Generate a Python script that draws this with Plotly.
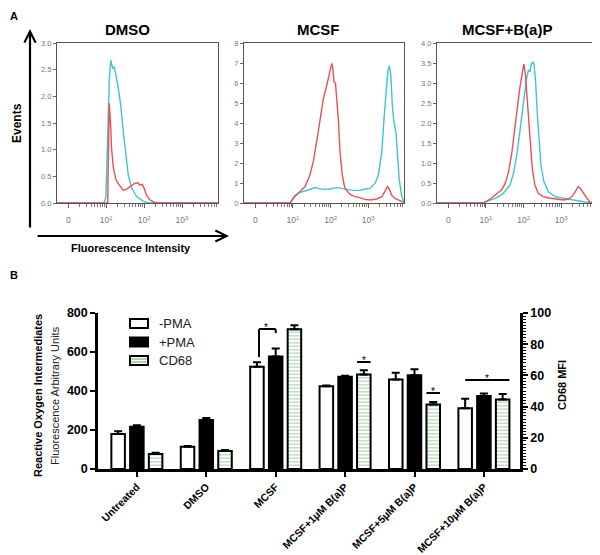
import math
import plotly.graph_objects as go

# The page body has an 8px margin, so the figure is offset by (8, 8) in the window.
OFF = 8
W, H = 600 - OFF, 555 - OFF
FONT = "Liberation Sans"

# ---------------- Panel A data (x in display decades: 0 -> "0", 1 -> 10^1, ...) ----------------
dmso_cyan_x = [-0.3, 0.94, 0.99, 1.03, 1.08, 1.12, 1.17, 1.20, 1.24, 1.32, 1.38, 1.45, 1.52, 1.58, 1.67, 1.80, 1.98, 2.11, 3.95]
dmso_cyan_y = [0, 0, 0.1, 1.2, 2.3, 2.68, 2.52, 2.56, 2.46, 2.15, 1.84, 1.34, 0.9, 0.53, 0.28, 0.12, 0.03, 0, 0]
dmso_red_x = [-0.3, 1.04, 1.05, 1.07, 1.08, 1.12, 1.14, 1.19, 1.26, 1.34, 1.45, 1.54, 1.64, 1.76, 1.83, 1.89, 1.95, 2.00, 2.06, 2.15, 2.28, 2.42, 3.95]
dmso_red_y = [0, 0, 0.6, 1.5, 1.87, 1.4, 1.02, 0.65, 0.43, 0.34, 0.24, 0.26, 0.31, 0.37, 0.38, 0.34, 0.35, 0.28, 0.15, 0.06, 0.01, 0, 0]

mcsf_red_x = [-0.3, 0.92, 1.05, 1.19, 1.32, 1.45, 1.54, 1.63, 1.72, 1.81, 1.90, 1.98, 2.03, 2.055, 2.09, 2.13, 2.16, 2.21, 2.25, 2.31, 2.38, 2.52, 2.65, 2.78, 2.91, 3.05, 3.22, 3.36, 3.44, 3.51, 3.56, 3.62, 3.71, 3.84, 3.95]
mcsf_red_y = [0, 0, 0.32, 0.57, 0.82, 1.4, 2.07, 3.07, 4.23, 5.23, 5.9, 6.65, 6.98, 6.82, 6.07, 5.98, 5.4, 4.07, 2.57, 1.4, 0.73, 0.43, 0.32, 0.27, 0.18, 0.15, 0.2, 0.32, 0.57, 0.82, 0.7, 0.4, 0.23, 0.1, 0.03]
mcsf_cyan_x = [-0.3, 0.92, 1.05, 1.19, 1.32, 1.45, 1.59, 1.67, 1.81, 1.98, 2.16, 2.29, 2.43, 2.60, 2.78, 2.91, 3.05, 3.18, 3.27, 3.36, 3.42, 3.47, 3.52, 3.56, 3.60, 3.64, 3.68, 3.74, 3.77, 3.82, 3.89, 3.95]
mcsf_cyan_y = [0, 0, 0.37, 0.53, 0.6, 0.7, 0.77, 0.73, 0.68, 0.7, 0.77, 0.73, 0.7, 0.63, 0.63, 0.7, 0.73, 0.98, 1.4, 2.57, 4.23, 5.57, 6.57, 6.87, 6.4, 4.9, 4.07, 3.48, 2.57, 1.23, 0.32, 0.05]

bap_red_x = [-0.3, 0.93, 1.11, 1.28, 1.42, 1.51, 1.59, 1.68, 1.77, 1.83, 1.90, 1.97, 2.01, 2.05, 2.08, 2.13, 2.17, 2.23, 2.30, 2.39, 2.52, 2.70, 2.88, 3.06, 3.19, 3.28, 3.37, 3.45, 3.52, 3.59, 3.68, 3.76, 3.87, 3.95]
bap_red_y = [0, 0, 0.1, 0.22, 0.33, 0.49, 0.74, 1.2, 1.87, 2.41, 2.87, 3.28, 3.47, 3.2, 2.78, 2.12, 1.45, 0.87, 0.45, 0.24, 0.16, 0.12, 0.1, 0.075, 0.1, 0.16, 0.28, 0.41, 0.35, 0.24, 0.12, 0.03, 0, 0]
bap_cyan_x = [-0.3, 0.93, 1.11, 1.28, 1.46, 1.57, 1.64, 1.73, 1.82, 1.90, 1.98, 2.04, 2.08, 2.13, 2.17, 2.21, 2.26, 2.28, 2.32, 2.36, 2.41, 2.46, 2.54, 2.66, 2.83, 3.06, 3.32, 3.59, 3.85, 3.95]
bap_cyan_y = [0, 0, 0.07, 0.13, 0.24, 0.37, 0.45, 0.74, 1.2, 1.78, 2.37, 2.78, 3.12, 3.33, 3.28, 3.49, 3.52, 3.45, 3.03, 2.28, 1.53, 0.95, 0.53, 0.28, 0.16, 0.12, 0.07, 0.03, 0, 0]

hist_titles = ["DMSO", "MCSF", "MCSF+B(a)P"]
hist_ymax = [3.0, 8.0, 4.0]
hist_ydtick = [0.5, 1, 0.5]
hist_yfmt = [".1f", "d", ".1f"]
decade_tickvals = [0, 1, 2, 3]
decade_ticktext = ["0", "10<sup>1</sup>", "10<sup>2</sup>", "10<sup>3</sup>"]

# ---------------- Panel B data ----------------
categories = ["Untreated", "DMSO", "MCSF", "MCSF+1\u03bcM B(a)P", "MCSF+5\u03bcM B(a)P", "MCSF+10\u03bcM B(a)P"]
roi_minus_pma = [179, 114, 524, 425, 459, 311]
roi_minus_pma_err = [14, 4, 24, 3, 34, 49]
roi_plus_pma = [217, 251, 577, 473, 481, 374]
roi_plus_pma_err = [8, 10, 41, 5, 31, 13]
cd68_mfi = [9.6, 11.5, 89.6, 60.6, 41.4, 44.6]
cd68_mfi_err = [0.8, 0.7, 2.5, 2.7, 1.5, 3.4]
legend_labels = ["-PMA", "+PMA", "CD68"]

RED = "#e8505b"
CYAN = "#3cc5d8"
GREEN = "#5aa85a"


def px(x):
    return (x - OFF) / W


def py(y):
    return 1 - (y - OFF) / H


def note(text, x, y, size, bold=False, angle=0, color="black", xanchor="center", yanchor="middle"):
    f = dict(size=size, family=FONT, color=color)
    if bold:
        f["weight"] = "bold"
    return dict(text=text, x=px(x), y=py(y), xref="paper", yref="paper", showarrow=False,
                xanchor=xanchor, yanchor=yanchor, textangle=angle, font=f)


fig = go.Figure()

# ---------------- Panel A ----------------
hist_series = [
    (dmso_red_x, dmso_red_y, dmso_cyan_x, dmso_cyan_y),
    (mcsf_red_x, mcsf_red_y, mcsf_cyan_x, mcsf_cyan_y),
    (bap_red_x, bap_red_y, bap_cyan_x, bap_cyan_y),
]
panel_px = [(57, 218), (244, 404), (437, 597)]
title_px = [127, 318, 507]
minor_vals = [math.log10(k) for k in range(2, 10)] + [d + math.log10(k) for d in (1, 2, 3) for k in range(2, 10) if d + math.log10(k) < 3.95]

layout = dict(
    width=W, height=H, margin=dict(l=0, r=0, t=0, b=0, pad=0, autoexpand=False),
    paper_bgcolor="white", plot_bgcolor="white", showlegend=False,
    font=dict(family=FONT, color="black"),
    barmode="overlay",
)

annotations = []
shapes = []

for i, (rx, ry, cx, cy) in enumerate(hist_series):
    n = "" if i == 0 else str(i + 1)
    fig.add_trace(go.Scatter(x=cx, y=cy, mode="lines", line=dict(color=CYAN, width=1.4),
                             xaxis="x" + n, yaxis="y" + n, hoverinfo="skip"))
    fig.add_trace(go.Scatter(x=rx, y=ry, mode="lines", line=dict(color=RED, width=1.4),
                             xaxis="x" + n, yaxis="y" + n, hoverinfo="skip"))
    x0, x1 = panel_px[i]
    layout["xaxis" + n] = dict(
        domain=[px(x0), px(x1)], anchor="y" + n, range=[-0.3, 3.95], automargin=False,
        showline=True, linecolor="#555", linewidth=1.2, mirror=True,
        showgrid=False, zeroline=False,
        tickmode="array", tickvals=decade_tickvals, ticktext=decade_ticktext,
        ticks="outside", ticklen=4, tickcolor="#666", tickwidth=1, ticklabelstandoff=5,
        tickfont=dict(size=8.5, color="#777", family=FONT),
        minor=dict(tickmode="array", tickvals=minor_vals, ticks="outside", ticklen=2.5, tickcolor="#777"),
    )
    layout["yaxis" + n] = dict(
        domain=[py(203), py(43)], anchor="x" + n, range=[0, hist_ymax[i]], automargin=False,
        showline=True, linecolor="#555", linewidth=1.2, mirror=True,
        showgrid=False, zeroline=False,
        dtick=hist_ydtick[i], tick0=0, tickformat=hist_yfmt[i],
        ticks="outside", ticklen=3, tickcolor="#666",
        tickfont=dict(size=7.5, color="#777", family=FONT),
    )
    annotations.append(note(hist_titles[i], title_px[i], 29, 15, bold=True))

# Axis labels & arrows for panel A
annotations += [
    note("A", 8, 8, 11, bold=True, xanchor="left", yanchor="top"),
    note("B", 8, 275, 11, bold=True, xanchor="left"),
    note("Events", 17, 123, 12, bold=True, angle=-90),
    note("Fluorescence Intensity", 131, 248, 11, bold=True),
    dict(text="", x=px(30), y=py(29), xref="paper", yref="paper", showarrow=True, ax=0, ay=200,
         arrowhead=5, arrowsize=1, arrowwidth=2.2, arrowcolor="black"),
    dict(text="", x=px(229), y=py(236), xref="paper", yref="paper", showarrow=True, ax=-193, ay=0,
         arrowhead=5, arrowsize=1, arrowwidth=2.2, arrowcolor="black"),
]

# ---------------- Panel B ----------------
idx = list(range(len(categories)))
BW = 0.195
SLOT = 0.27
err_style = dict(type="data", symmetric=False, color="black", thickness=2, width=4)

fig.add_trace(go.Bar(x=idx, y=roi_minus_pma, width=BW, offset=-SLOT - BW / 2,
                     marker=dict(color="white", line=dict(color="black", width=2)),
                     error_y=dict(array=roi_minus_pma_err, arrayminus=[0] * 6, **err_style),
                     xaxis="x4", yaxis="y4", name=legend_labels[0]))
fig.add_trace(go.Bar(x=idx, y=roi_plus_pma, width=BW, offset=-BW / 2,
                     marker=dict(color="black", line=dict(color="black", width=2)),
                     error_y=dict(array=roi_plus_pma_err, arrayminus=[0] * 6, **err_style),
                     xaxis="x4", yaxis="y4", name=legend_labels[1]))
fig.add_trace(go.Bar(x=idx, y=cd68_mfi, width=BW, offset=SLOT - BW / 2,
                     marker=dict(color="white", line=dict(color="black", width=2),
                                 pattern=dict(shape="-", fgcolor=GREEN, bgcolor="white", size=3.5, solidity=0.35)),
                     error_y=dict(array=cd68_mfi_err, arrayminus=[0] * 6, **err_style),
                     xaxis="x4", yaxis="y5", name=legend_labels[2]))

layout["xaxis4"] = dict(
    domain=[px(98), px(520)], anchor="y4", range=[-0.56, 5.52], automargin=False,
    showline=True, linecolor="black", linewidth=2.5, showgrid=False, zeroline=False,
    tickmode="array", tickvals=idx, ticktext=categories, tickangle=-45,
    ticks="outside", ticklen=5, tickwidth=2, tickcolor="black",
    tickfont=dict(size=10.5, family=FONT, weight="bold"),
)
layout["yaxis4"] = dict(
    domain=[py(469), py(313)], anchor="x4", range=[0, 800], automargin=False,
    showline=True, linecolor="black", linewidth=2.5, showgrid=False, zeroline=False,
    tickmode="linear", tick0=0, dtick=200,
    ticks="outside", ticklen=5, tickwidth=2, tickcolor="black",
    tickfont=dict(size=12.5, family=FONT, weight="bold"),
)
layout["yaxis5"] = dict(
    overlaying="y4", side="right", anchor="x4", range=[0, 100], automargin=False,
    showline=True, linecolor="black", linewidth=2.5, showgrid=False, zeroline=False,
    tickmode="linear", tick0=0, dtick=20,
    ticks="outside", ticklen=5, tickwidth=2, tickcolor="black",
    tickfont=dict(size=12.5, family=FONT, weight="bold"),
    minor=dict(dtick=2, ticks="outside", ticklen=3, tickwidth=1.2, tickcolor="black"),
)

annotations += [
    note("Reactive Oxygen Intermediates", 38, 396, 11, bold=True, angle=-90),
    note("Fluorescence Arbitrary Units", 55, 396, 11, angle=-90, color="#222"),
    note("CD68 MFI", 562, 385, 11, bold=True, angle=-90),
]

# Significance marks (relative to group centers)
g = 2
shapes += [
    dict(type="line", xref="x4", yref="y4", x0=g - SLOT + 0.03, x1=g - SLOT + 0.03, y0=574, y1=718, line=dict(color="black", width=2)),
    dict(type="line", xref="x4", yref="y4", x0=g - SLOT + 0.03, x1=g, y0=718, y1=718, line=dict(color="black", width=2)),
    dict(type="line", xref="x4", yref="y4", x0=g, x1=g, y0=718, y1=697, line=dict(color="black", width=2)),
]
annotations.append(dict(text="*", x=g - SLOT / 2, y=718, xref="x4", yref="y4", showarrow=False,
                        xanchor="center", yanchor="bottom", yshift=-6,
                        font=dict(size=10, family=FONT, color="black")))
sig_lines = [(3, SLOT - BW / 2, SLOT + BW / 2, 68.6), (4, SLOT - BW / 2, SLOT + BW / 2, 48.7), (5, -SLOT, SLOT + BW / 2, 57.0)]
for gi, a, b, yv in sig_lines:
    shapes.append(dict(type="line", xref="x4", yref="y5", x0=gi + a, x1=gi + b, y0=yv, y1=yv,
                       line=dict(color="black", width=2)))
    annotations.append(dict(text="*", x=gi + (a + b) / 2, y=yv, xref="x4", yref="y5", showarrow=False,
                            xanchor="center", yanchor="bottom", yshift=-6,
                            font=dict(size=10, family=FONT, color="black")))

# Custom legend
leg_rows = [323.5, 342, 360.5]
for k, yc in enumerate(leg_rows):
    fill = ["white", "black", "white"][k]
    shapes.append(dict(type="rect", xref="paper", yref="paper", x0=px(130), x1=px(148),
                       y0=py(yc + 4.5), y1=py(yc - 4.5), fillcolor=fill, line=dict(color="black", width=2)))
    annotations.append(note(legend_labels[k], 157, yc, 13, color="#222", xanchor="left"))
for yy in (359.0, 362.0):
    shapes.append(dict(type="line", xref="paper", yref="paper", x0=px(131.5), x1=px(146.5),
                       y0=py(yy), y1=py(yy), line=dict(color=GREEN, width=1)))

layout["annotations"] = annotations
layout["shapes"] = shapes
fig.update_layout(**layout)
fig.write_html("out.html")
